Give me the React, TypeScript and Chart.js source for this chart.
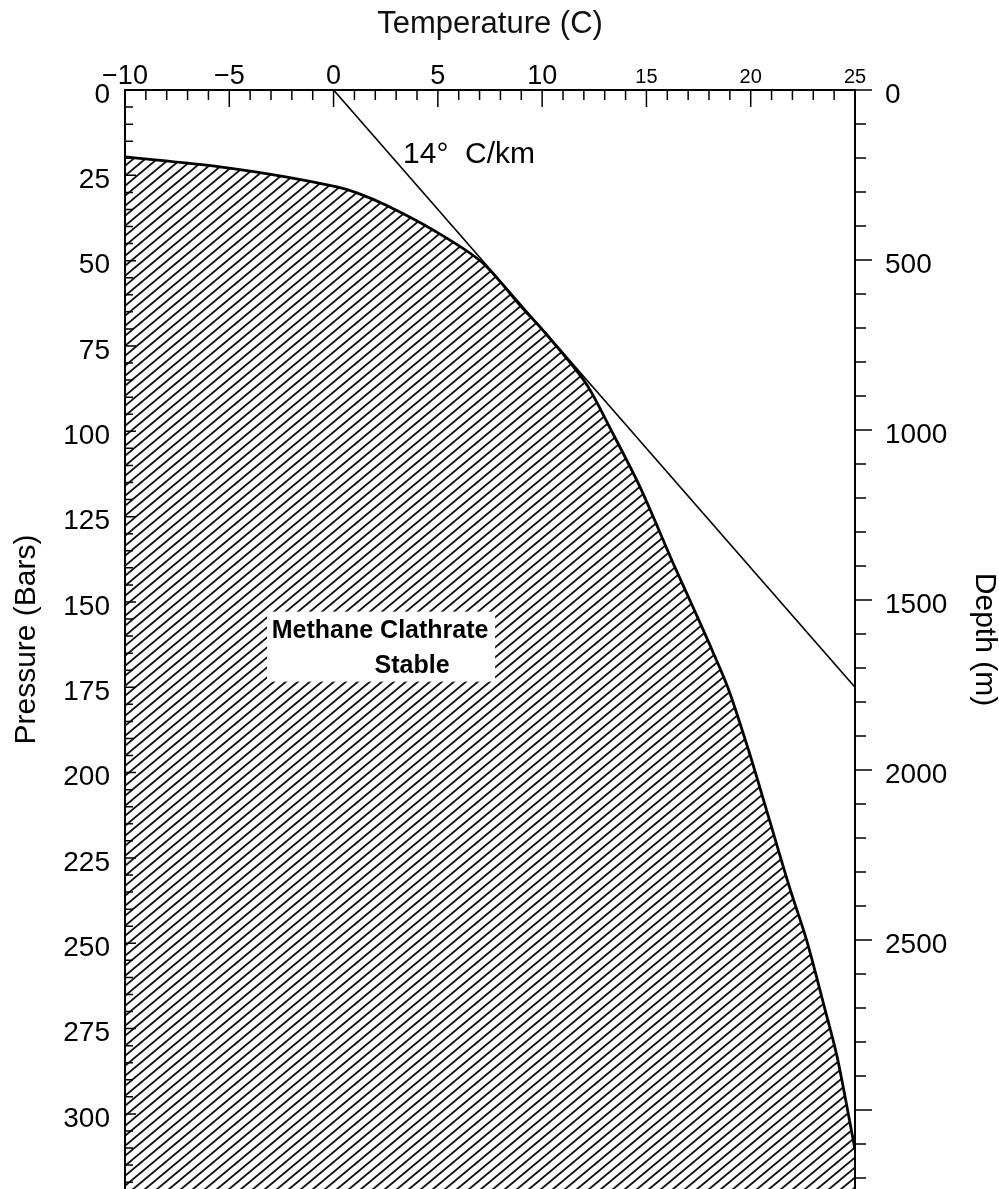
import React, { useEffect, useRef } from 'react';
import { Chart, registerables } from 'chart.js';

Chart.register(...registerables);

const FONT = "'Liberation Sans', Arial, Helvetica, sans-serif";

// Axis ranges
const TEMP_MIN = -10;
const TEMP_MAX = 25;
const PRESSURE_MAX = 322;
const DEPTH_MAX = 3232;

// Tick labels
const tempTicks = [-10, -5, 0, 5, 10, 15, 20, 25];
const pressureTicks = [0, 25, 50, 75, 100, 125, 150, 175, 200, 225, 250, 275, 300];
const depthTicks = [0, 500, 1000, 1500, 2000, 2500];

// Methane clathrate stability boundary (temperature C, pressure bars)
const boundaryTemp = [-10, -5.45, -2.23, 0.16, 1.15, 2.5, 4.77, 7.1, 9.0, 10.15, 12.05, 13.3, 14.69, 16.27, 17.35, 18.14, 18.96, 19.92, 20.88, 21.85, 22.7, 23.51, 24.14, 25];
const boundaryPressure = [19.6, 22.5, 25.5, 28.4, 30.2, 33.7, 41.0, 50.4, 63.5, 71.2, 85.5, 99.6, 116.3, 138.5, 153.1, 164.0, 176.0, 193.9, 213.5, 233.4, 249.5, 268.2, 283.2, 310.4];

// 14 C/km geotherm
const gradientTemp = [0, 25];
const gradientPressure = [0, 175];

// Annotation anchors (data units)
const regionLabel = { t: 2.23, p: 162.8, lines: ['Methane Clathrate', 'Stable'] };
const gradientLabel = { t: 3.33, p: 21.4, text: '14°  C/km' };

function makeHatch(): CanvasPattern | string {
  const w = 12;
  const h = 10;
  const c = document.createElement('canvas');
  c.width = w;
  c.height = h;
  const g = c.getContext('2d');
  if (!g) return '#888';
  g.strokeStyle = '#111';
  g.lineWidth = 1.8;
  for (const k of [0, h, 2 * h]) {
    g.beginPath();
    g.moveTo(-2, k + (2 * h) / w);
    g.lineTo(w + 2, k - (h * (w + 2)) / w);
    g.stroke();
  }
  return g.createPattern(c, 'repeat') || '#888';
}

const axisMarksPlugin = {
  id: 'axisMarks',
  afterDatasetsDraw(chart: any) {
    const { ctx, chartArea: a, scales } = chart;
    const sx = scales.x;
    const sy = scales.y;
    const sd = scales.y2;
    ctx.save();
    ctx.strokeStyle = '#000';
    ctx.lineWidth = 2;
    ctx.beginPath();
    ctx.moveTo(a.left, a.bottom);
    ctx.lineTo(a.left, a.top);
    ctx.lineTo(a.right, a.top);
    ctx.lineTo(a.right, a.bottom);
    ctx.stroke();

    ctx.lineWidth = 1.5;
    ctx.beginPath();
    for (let t = TEMP_MIN; t <= TEMP_MAX; t += 1) {
      const px = sx.getPixelForValue(t);
      const len = t % 5 === 0 ? 17 : 10;
      ctx.moveTo(px, a.top);
      ctx.lineTo(px, a.top + len);
    }
    for (let p = 0; p <= PRESSURE_MAX; p += 5) {
      const py = sy.getPixelForValue(p);
      const len = p % 25 === 0 ? 11 : 8;
      ctx.moveTo(a.left, py);
      ctx.lineTo(a.left + len, py);
    }
    for (let d = 0; d <= DEPTH_MAX; d += 100) {
      const py = sd.getPixelForValue(d);
      const len = d % 500 === 0 ? 17 : 11;
      ctx.moveTo(a.right, py);
      ctx.lineTo(a.right + len, py);
    }
    ctx.stroke();
    ctx.restore();
  },
};

const annotationPlugin = {
  id: 'annotations',
  afterDatasetsDraw(chart: any) {
    const { ctx, scales } = chart;
    const sx = scales.x;
    const sy = scales.y;
    ctx.save();
    const cx = sx.getPixelForValue(regionLabel.t);
    const cy = sy.getPixelForValue(regionLabel.p);
    ctx.fillStyle = '#fff';
    ctx.fillRect(cx - 113, cy - 34, 228, 70);
    ctx.fillStyle = '#000';
    ctx.font = `bold 25px ${FONT}`;
    ctx.textAlign = 'center';
    ctx.textBaseline = 'alphabetic';
    ctx.fillText(regionLabel.lines[0], cx, cy - 8);
    ctx.fillText(regionLabel.lines[1], cx + 32, cy + 27);
    const gx = sx.getPixelForValue(gradientLabel.t);
    const gy = sy.getPixelForValue(gradientLabel.p);
    ctx.font = `30px ${FONT}`;
    ctx.textAlign = 'left';
    ctx.fillText(gradientLabel.text, gx, gy);
    ctx.restore();
  },
};

function fixSize(prop: 'width' | 'height', size: number) {
  return (scale: any) => {
    scale[prop] = size;
    scale.paddingLeft = 0;
    scale.paddingRight = 0;
    scale.paddingTop = 0;
    scale.paddingBottom = 0;
  };
}

const plainLabel = (v: any) => String(v);

export default function App() {
  const ref = useRef<HTMLCanvasElement>(null);

  useEffect(() => {
    const canvas = ref.current;
    if (!canvas) return;
    const hatch = makeHatch();
    const boundary = boundaryTemp.map((t, i) => ({ x: t, y: boundaryPressure[i] }));
    const gradient = gradientTemp.map((t, i) => ({ x: t, y: gradientPressure[i] }));

    const chart = new Chart(canvas, {
      type: 'scatter',
      data: {
        datasets: [
          {
            label: 'Stability boundary',
            data: boundary,
            showLine: true,
            borderColor: '#000',
            borderWidth: 2.8,
            pointRadius: 0,
            tension: 0.3,
            fill: 'start',
            backgroundColor: hatch as any,
          },
          {
            label: '14 C/km',
            data: gradient,
            showLine: true,
            borderColor: '#000',
            borderWidth: 1.6,
            pointRadius: 0,
            fill: false,
          },
        ],
      },
      options: {
        animation: false,
        responsive: false,
        maintainAspectRatio: false,
        devicePixelRatio: 1,
        layout: { padding: 0 },
        plugins: {
          legend: { display: false },
          tooltip: { enabled: false },
        },
        scales: {
          x: {
            type: 'linear',
            position: 'top',
            min: TEMP_MIN,
            max: TEMP_MAX,
            grid: { display: false, drawTicks: false },
            border: { display: false },
            afterBuildTicks: (s: any) => {
              s.ticks = tempTicks.map((v) => ({ value: v }));
            },
            afterFit: fixSize('height', 90),
            ticks: {
              autoSkip: false,
              padding: -3,
              maxRotation: 0,
              color: '#000',
              font: (c: any) => ({
                family: FONT,
                size: c.tick && c.tick.value > 10 ? 20 : 27,
                lineHeight: '32px',
              }),
              callback: (v: any) => (Number(v) < 0 ? '−' + Math.abs(Number(v)) : String(v)),
            },
            title: {
              display: true,
              text: 'Temperature (C)',
              color: '#111',
              font: { family: FONT, size: 31 },
              padding: { top: 6, bottom: 0 },
            },
          },
          y: {
            type: 'linear',
            position: 'left',
            reverse: true,
            min: 0,
            max: PRESSURE_MAX,
            grid: { display: false, drawTicks: false },
            border: { display: false },
            afterBuildTicks: (s: any) => {
              s.ticks = pressureTicks.map((v) => ({ value: v }));
            },
            afterFit: fixSize('width', 125),
            ticks: {
              autoSkip: false,
              padding: 15,
              labelOffset: 5,
              color: '#000',
              font: { family: FONT, size: 28 },
              callback: plainLabel,
            },
            title: {
              display: true,
              text: 'Pressure (Bars)',
              color: '#000',
              font: { family: FONT, size: 30 },
              padding: { top: 9, bottom: 0 },
            },
          },
          y2: {
            type: 'linear',
            axis: 'y',
            position: 'right',
            reverse: true,
            min: 0,
            max: DEPTH_MAX,
            grid: { display: false, drawTicks: false },
            border: { display: false },
            afterBuildTicks: (s: any) => {
              s.ticks = depthTicks.map((v) => ({ value: v }));
            },
            afterFit: fixSize('width', 144),
            ticks: {
              autoSkip: false,
              padding: 30,
              labelOffset: 5,
              color: '#000',
              font: { family: FONT, size: 28 },
              callback: plainLabel,
            },
            title: {
              display: true,
              text: 'Depth (m)',
              color: '#000',
              font: { family: FONT, size: 30, lineHeight: 1 },
              padding: { top: 0, bottom: 0 },
            },
          },
        },
      } as any,
      plugins: [axisMarksPlugin, annotationPlugin],
    });

    return () => chart.destroy();
  }, []);

  return (
    <div
      style={{
        position: 'absolute',
        left: 0,
        top: 0,
        width: 999,
        height: 1189,
        overflow: 'hidden',
        background: '#fff',
      }}
    >
      <canvas ref={ref} width={999} height={1189} style={{ display: 'block' }} />
    </div>
  );
}
